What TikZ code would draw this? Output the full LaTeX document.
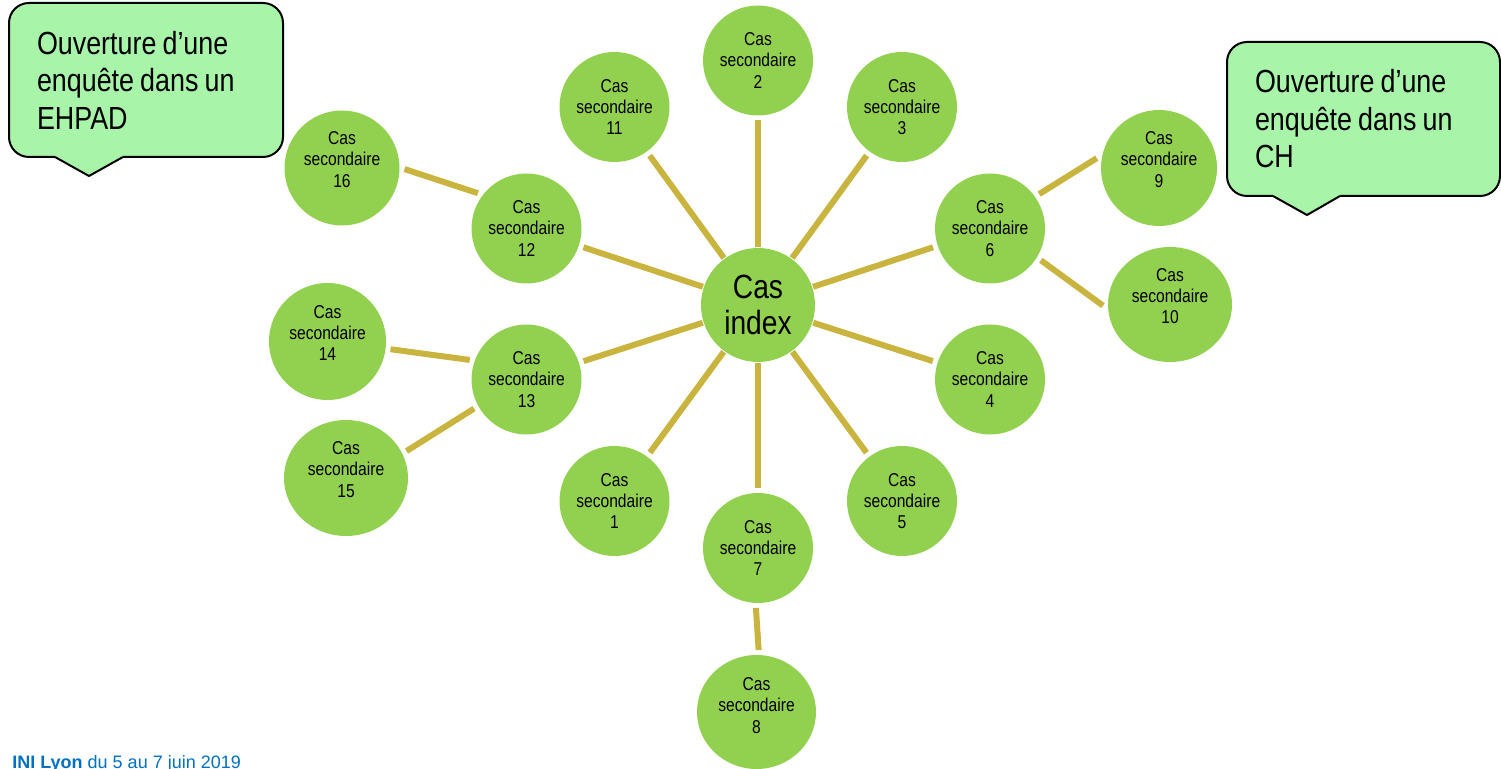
\documentclass[tikz,border=0pt]{standalone}
\usepackage{fontspec}
\setmainfont{Liberation Sans}[FakeStretch=0.84]
\newfontfamily\piedfont{Liberation Sans}
\usetikzlibrary{shapes.geometric}
\definecolor{vertcas}{RGB}{146,208,80}
\definecolor{orlien}{RGB}{200,180,62}
\definecolor{vertbulle}{RGB}{168,245,170}
\definecolor{bleupied}{RGB}{0,112,192}
\tikzset{
	cas/.style={circle, fill=vertcas, inner sep=0pt, outer sep=2.5pt, minimum size=55pt, align=center, font=\fontsize{9.3}{10.6}\selectfont},
	casov/.style={cas, ellipse},
	lien/.style={draw=orlien, line width=3pt},
	bulle/.style={draw, line width=1pt, fill=vertbulle, rounded corners=10pt, inner xsep=14pt, inner ysep=0pt, minimum height=77pt, align=left, font=\fontsize{16}{18.75}\selectfont,
		execute at begin node={\spaceskip=0.19em plus 0.05em\relax}}
}
\begin{document}
\begin{tikzpicture}[x=0.5pt, y=-0.5pt]
	\useasboundingbox (0,0) rectangle (1501,769);
	\node[cas, minimum size=57pt, outer sep=0.5pt, font=\fontsize{16.8}{18}\selectfont] (index) at (758,305) {Cas\\index};
	\node[cas] (s2) at (758,60.5) {Cas\\secondaire\\2};
	\node[cas] (s11) at (614.5,107) {Cas\\secondaire\\11};
	\node[cas] (s3) at (902,107) {Cas\\secondaire\\3};
	\node[cas] (s12) at (526.5,228.5) {Cas\\secondaire\\12};
	\node[cas] (s6) at (990,228.5) {Cas\\secondaire\\6};
	\node[cas] (s13) at (526.5,379.5) {Cas\\secondaire\\13};
	\node[cas] (s4) at (990,379.5) {Cas\\secondaire\\4};
	\node[cas] (s1) at (614.5,501) {Cas\\secondaire\\1};
	\node[cas] (s5) at (902,501) {Cas\\secondaire\\5};
	\node[cas] (s7) at (758,548) {Cas\\secondaire\\7};
	\node[cas, minimum size=57.5pt] (s16) at (342,168) {Cas\\secondaire\\16\\[-2pt]\mbox{}};
	\node[cas, minimum size=58.5pt] (s14) at (327.5,341.5) {Cas\\secondaire\\14\\[-2pt]\mbox{}};
	\node[casov, minimum width=62pt, minimum height=58pt] (s15) at (346,478) {Cas\\secondaire\\15\\[-2pt]\mbox{}};
	\node[cas, minimum size=58pt] (s9) at (1159,168) {Cas\\secondaire\\9\\[-2pt]\mbox{}};
	\node[casov, minimum width=62pt, minimum height=57.5pt] (s10) at (1170,304.5) {Cas\\secondaire\\10\\[-2pt]\mbox{}};
	\node[casov, minimum width=59.5pt, minimum height=57pt] (s8) at (756.5,712) {Cas\\secondaire\\8\\[-4pt]\mbox{}};
	\foreach \n in {1,...,7,11,12,13}
		\draw[lien] (index) -- (s\n);
	\draw[lien] (s12.144.6) -- (s16.-1);
	\draw[lien] (s13.161.6) -- (s14.-7.7);
	\draw[lien] (s13.209.2) -- (s15.24.2);
	\draw[lien] (s6.35.9) -- (s9.171);
	\draw[lien] (s6.-32.8) -- (s10.181.3);
	\draw[lien] (s7.268) -- (s8.88.6);
	\node[bulle, minimum width=137pt, text width=109pt] (ehpad) at (146,80) {Ouverture d’une\\enquête dans un\\EHPAD};
	\fill[vertbulle] (55,155) -- (123,155) -- (123,157) -- (89,176) -- (55,157) -- cycle;
	\draw[line width=1pt] (55,157) -- (89,176) -- (123,157);
	\node[bulle, minimum width=136.5pt, text width=108.5pt] (ch) at (1363.5,119) {Ouverture d’une\\enquête dans un\\CH};
	\fill[vertbulle] (1273,194) -- (1340,194) -- (1340,196) -- (1307,215) -- (1273,196) -- cycle;
	\draw[line width=1pt] (1273,196) -- (1307,215) -- (1340,196);
	\node[anchor=base west, inner sep=0pt, text=bleupied, font=\piedfont\fontsize{9}{10}\selectfont] (pied) at (12,769) {\textbf{INI Lyon} du 5 au 7 juin 2019};
\end{tikzpicture}
\end{document}
